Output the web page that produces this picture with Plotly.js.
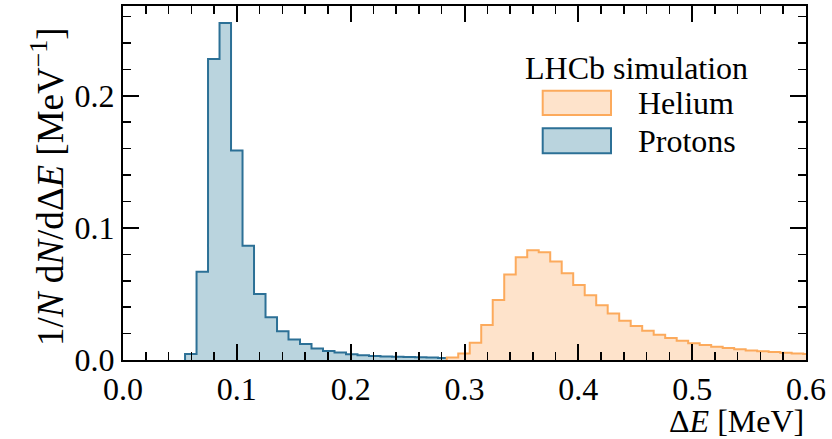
<!DOCTYPE html>
<html>
<head>
<meta charset="utf-8">
<script src="https://cdn.plot.ly/plotly-3.0.1.min.js"></script>
<style>html,body{margin:0;padding:0;background:#fff;}#chart{width:832px;height:439px;}</style>
</head>
<body>
<div id="chart"></div>
<script>
// Histogram data (normalised, 1/N dN/dΔE in MeV^-1)
const binWidth = 0.0101;
const protonFirstEdge = 0.0545;
const protonCounts = [0.0045, 0.0669, 0.2278, 0.2551, 0.1586, 0.0864, 0.0500, 0.0323, 0.0218, 0.0155,
  0.0121, 0.0088, 0.0069, 0.0056, 0.0044, 0.0036, 0.0030, 0.0027, 0.0024, 0.0022,
  0.0020, 0.0018, 0.0016, 0.0014, 0.0012];
const heliumFirstEdge = 0.2844;
const heliumCounts = [0.0018, 0.0050, 0.0131, 0.0265, 0.0455, 0.0647, 0.0778, 0.0830, 0.0815, 0.0746,
  0.0656, 0.0567, 0.0490, 0.0415, 0.0352, 0.0298, 0.0258, 0.0221, 0.0192, 0.0166,
  0.0145, 0.0126, 0.0113, 0.0101, 0.0090, 0.0081, 0.0072, 0.0066, 0.0060, 0.0055,
  0.0050, 0.0045];
const seriesNames = ["Helium", "Protons"];
const xTickVals = [0, 0.1, 0.2, 0.3, 0.4, 0.5, 0.6];
const yTickVals = [0, 0.1, 0.2];

function stepXY(firstEdge, counts) {
  const x = [firstEdge], y = [0];
  counts.forEach((c, i) => { x.push(firstEdge + i * binWidth); y.push(c); });
  const last = firstEdge + counts.length * binWidth;
  x.push(last); y.push(counts[counts.length - 1]);
  x.push(last); y.push(0);
  return {x, y};
}

const p = stepXY(protonFirstEdge, protonCounts);
const h = stepXY(heliumFirstEdge, heliumCounts);

const protonLine = 'rgb(44,112,150)', protonFill = 'rgb(186,212,222)';
const heliumLine = 'rgb(252,170,92)', heliumFill = 'rgb(254,227,203)';

const traces = [
  {x: p.x, y: p.y, type: 'scatter', mode: 'lines', line: {shape: 'hv', color: protonLine, width: 2},
   fill: 'tozeroy', fillcolor: protonFill, name: seriesNames[1], showlegend: false, hoverinfo: 'skip'},
  {x: h.x, y: h.y, type: 'scatter', mode: 'lines', line: {shape: 'hv', color: heliumLine, width: 2},
   fill: 'tozeroy', fillcolor: heliumFill, name: seriesNames[0], showlegend: false, hoverinfo: 'skip'}
];

const family = 'Liberation Serif, Times New Roman, serif';
const font = {family: family, size: 32, color: '#000'};
const yTitleFont = {family: family, size: 37, color: '#000'};
const axisCommon = {
  showline: true, linewidth: 2, linecolor: '#000', mirror: 'ticks',
  ticks: 'inside', ticklen: 16, tickwidth: 2, tickcolor: '#000',
  showgrid: false, zeroline: false, tickformat: '.1f', tickfont: font, fixedrange: true
};

const layout = {
  width: 832, height: 439,
  margin: {l: 123, r: 26, t: 6, b: 79},
  paper_bgcolor: '#fff', plot_bgcolor: '#fff',
  font: font, showlegend: false,
  xaxis: Object.assign({}, axisCommon, {range: [0, 0.6], tickvals: xTickVals,
    minor: {dtick: 0.02, tick0: 0, ticks: 'inside', ticklen: 8, tickwidth: 1.5, tickcolor: '#000'}}),
  yaxis: Object.assign({}, axisCommon, {range: [0, 0.268], tickvals: yTickVals,
    minor: {dtick: 0.02, tick0: 0, ticks: 'inside', ticklen: 8, tickwidth: 1.5, tickcolor: '#000'}}),
  shapes: [
    {type: 'rect', xref: 'paper', yref: 'paper', x0: 0.6145, x1: 0.7145, y0: 0.692, y1: 0.7607,
     line: {color: heliumLine, width: 2}, fillcolor: heliumFill},
    {type: 'rect', xref: 'paper', yref: 'paper', x0: 0.6145, x1: 0.7145, y0: 0.5839, y1: 0.6545,
     line: {color: protonLine, width: 2}, fillcolor: protonFill}
  ],
  annotations: [
    {text: 'LHCb simulation', xref: 'paper', yref: 'paper', x: 0.5857, y: 0.826, xanchor: 'left', yanchor: 'middle', showarrow: false, font: font},
    {text: seriesNames[0], xref: 'paper', yref: 'paper', x: 0.7515, y: 0.726, xanchor: 'left', yanchor: 'middle', showarrow: false, font: font},
    {text: seriesNames[1], xref: 'paper', yref: 'paper', x: 0.7515, y: 0.6186, xanchor: 'left', yanchor: 'middle', showarrow: false, font: font},
    {text: 'Δ<i>E</i> [MeV]', xref: 'paper', yref: 'paper', x: 1, y: -0.172, xanchor: 'right', yanchor: 'middle', showarrow: false, font: font},
    {text: '1/<i>N</i> d<i>N</i>/dΔ<i>E</i> [MeV<sup>−1</sup>]', xref: 'paper', yref: 'paper', x: -0.1113, y: 0.4915, xanchor: 'center', yanchor: 'middle', textangle: -90, showarrow: false, font: yTitleFont}
  ]
};

Plotly.newPlot('chart', traces, layout, {displayModeBar: false, staticPlot: true});
</script>
</body>
</html>
